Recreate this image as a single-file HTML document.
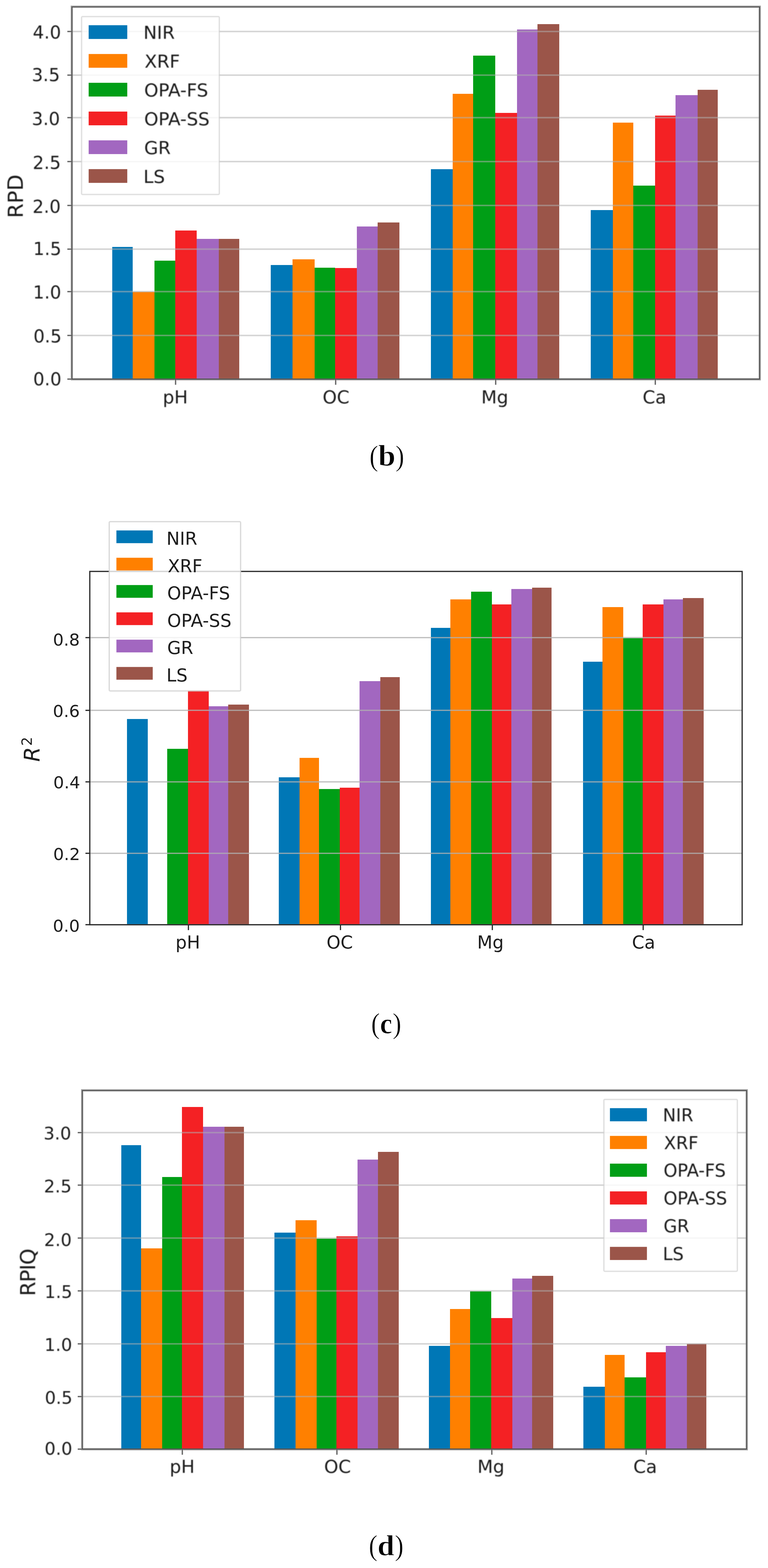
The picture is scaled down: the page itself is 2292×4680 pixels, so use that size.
<!DOCTYPE html>
<html><head><meta charset="utf-8"><title>Figure: RPD, R2 and RPIQ bar charts</title>
<style>
html,body{margin:0;padding:0;background:#fff;}
body{width:2292px;height:4680px;overflow:hidden;}
svg{display:block;}
.tx text{font-family:'DejaVu Sans', 'Liberation Sans', sans-serif;fill:#1e1e1e;}
.cap{font-family:'Liberation Serif', serif;fill:#000;}
</style></head>
<body>
<svg width="2292" height="4680" viewBox="0 0 2292 4680">
<defs><filter id="soft" x="-5%" y="-5%" width="110%" height="110%"><feGaussianBlur stdDeviation="0.8"/></filter></defs>
<rect x="0" y="0" width="2292" height="4680" fill="#fff"/>
<g id="chart-b">
<rect x="217.55" y="23.35" width="2046.55" height="1105.45" fill="none" stroke="#dddddd" stroke-width="2.5"/>
<rect x="334.6" y="736.6" width="61" height="394.75" fill="#0077b6" shape-rendering="crispEdges"/>
<rect x="395.6" y="871" width="65.6" height="260.35" fill="#ff8000" shape-rendering="crispEdges"/>
<rect x="461.2" y="778.4" width="61.3" height="352.95" fill="#009e16" shape-rendering="crispEdges"/>
<rect x="522.5" y="688.2" width="64.9" height="443.15" fill="#f42124" shape-rendering="crispEdges"/>
<rect x="587.4" y="713.1" width="65.6" height="418.25" fill="#a267c0" shape-rendering="crispEdges"/>
<rect x="653" y="713.1" width="61.3" height="418.25" fill="#9b5549" shape-rendering="crispEdges"/>
<rect x="807.8" y="790.7" width="64.9" height="340.65" fill="#0077b6" shape-rendering="crispEdges"/>
<rect x="872.7" y="773.9" width="66" height="357.45" fill="#ff8000" shape-rendering="crispEdges"/>
<rect x="938.7" y="798.9" width="61.3" height="332.45" fill="#009e16" shape-rendering="crispEdges"/>
<rect x="1000" y="799.6" width="65.3" height="331.75" fill="#f42124" shape-rendering="crispEdges"/>
<rect x="1065.3" y="675.9" width="61.7" height="455.45" fill="#a267c0" shape-rendering="crispEdges"/>
<rect x="1127" y="664.1" width="64.9" height="467.25" fill="#9b5549" shape-rendering="crispEdges"/>
<rect x="1286.2" y="505.2" width="64.8" height="626.15" fill="#0077b6" shape-rendering="crispEdges"/>
<rect x="1351" y="279.7" width="61.1" height="851.65" fill="#ff8000" shape-rendering="crispEdges"/>
<rect x="1412.1" y="165.5" width="65.8" height="965.85" fill="#009e16" shape-rendering="crispEdges"/>
<rect x="1477.9" y="337" width="64.9" height="794.35" fill="#f42124" shape-rendering="crispEdges"/>
<rect x="1542.8" y="87.5" width="61" height="1043.85" fill="#a267c0" shape-rendering="crispEdges"/>
<rect x="1603.8" y="71.5" width="65.4" height="1059.85" fill="#9b5549" shape-rendering="crispEdges"/>
<rect x="1763.1" y="627.4" width="65.7" height="503.95" fill="#0077b6" shape-rendering="crispEdges"/>
<rect x="1828.8" y="366.3" width="61.2" height="765.05" fill="#ff8000" shape-rendering="crispEdges"/>
<rect x="1890" y="554.4" width="64.8" height="576.95" fill="#009e16" shape-rendering="crispEdges"/>
<rect x="1954.8" y="345" width="61.2" height="786.35" fill="#f42124" shape-rendering="crispEdges"/>
<rect x="2016" y="283.9" width="65.7" height="847.45" fill="#a267c0" shape-rendering="crispEdges"/>
<rect x="2081.7" y="268" width="60.7" height="863.35" fill="#9b5549" shape-rendering="crispEdges"/>
<line x1="215" y1="1131.5" x2="2266.65" y2="1131.5" stroke="#b0b0b0" stroke-opacity="0.53" stroke-width="4.6"/>
<line x1="215" y1="1001.2" x2="2266.65" y2="1001.2" stroke="#b0b0b0" stroke-opacity="0.53" stroke-width="4.6"/>
<line x1="215" y1="870.4" x2="2266.65" y2="870.4" stroke="#b0b0b0" stroke-opacity="0.53" stroke-width="4.6"/>
<line x1="215" y1="743.6" x2="2266.65" y2="743.6" stroke="#b0b0b0" stroke-opacity="0.53" stroke-width="4.6"/>
<line x1="215" y1="613.2" x2="2266.65" y2="613.2" stroke="#b0b0b0" stroke-opacity="0.53" stroke-width="4.6"/>
<line x1="215" y1="482.2" x2="2266.65" y2="482.2" stroke="#b0b0b0" stroke-opacity="0.53" stroke-width="4.6"/>
<line x1="215" y1="351.1" x2="2266.65" y2="351.1" stroke="#b0b0b0" stroke-opacity="0.53" stroke-width="4.6"/>
<line x1="215" y1="224.2" x2="2266.65" y2="224.2" stroke="#b0b0b0" stroke-opacity="0.53" stroke-width="4.6"/>
<line x1="215" y1="94" x2="2266.65" y2="94" stroke="#b0b0b0" stroke-opacity="0.53" stroke-width="4.6"/>
<rect x="212.35" y="18.15" width="2056.95" height="1115.85" fill="none" stroke="#9c9c9c" stroke-width="2.7"/>
<line x1="201" y1="1131.5" x2="215" y2="1131.5" stroke="#bcbcbc" stroke-width="5"/>
<line x1="201" y1="1001.2" x2="215" y2="1001.2" stroke="#bcbcbc" stroke-width="5"/>
<line x1="201" y1="870.4" x2="215" y2="870.4" stroke="#bcbcbc" stroke-width="5"/>
<line x1="201" y1="743.6" x2="215" y2="743.6" stroke="#bcbcbc" stroke-width="5"/>
<line x1="201" y1="613.2" x2="215" y2="613.2" stroke="#bcbcbc" stroke-width="5"/>
<line x1="201" y1="482.2" x2="215" y2="482.2" stroke="#bcbcbc" stroke-width="5"/>
<line x1="201" y1="351.1" x2="215" y2="351.1" stroke="#bcbcbc" stroke-width="5"/>
<line x1="201" y1="224.2" x2="215" y2="224.2" stroke="#bcbcbc" stroke-width="5"/>
<line x1="201" y1="94" x2="215" y2="94" stroke="#bcbcbc" stroke-width="5"/>
<line x1="524" y1="1131.35" x2="524" y2="1148.35" stroke="#bcbcbc" stroke-width="5"/>
<line x1="1001.8" y1="1131.35" x2="1001.8" y2="1148.35" stroke="#bcbcbc" stroke-width="5"/>
<line x1="1479.3" y1="1131.35" x2="1479.3" y2="1148.35" stroke="#bcbcbc" stroke-width="5"/>
<line x1="1955.7" y1="1131.35" x2="1955.7" y2="1148.35" stroke="#bcbcbc" stroke-width="5"/>
<rect x="215" y="20.8" width="2051.65" height="1110.55" fill="none" stroke="#454545" stroke-width="2.7"/>
<line x1="201" y1="1131.5" x2="215" y2="1131.5" stroke="#555555" stroke-width="2.6"/>
<line x1="201" y1="1001.2" x2="215" y2="1001.2" stroke="#555555" stroke-width="2.6"/>
<line x1="201" y1="870.4" x2="215" y2="870.4" stroke="#555555" stroke-width="2.6"/>
<line x1="201" y1="743.6" x2="215" y2="743.6" stroke="#555555" stroke-width="2.6"/>
<line x1="201" y1="613.2" x2="215" y2="613.2" stroke="#555555" stroke-width="2.6"/>
<line x1="201" y1="482.2" x2="215" y2="482.2" stroke="#555555" stroke-width="2.6"/>
<line x1="201" y1="351.1" x2="215" y2="351.1" stroke="#555555" stroke-width="2.6"/>
<line x1="201" y1="224.2" x2="215" y2="224.2" stroke="#555555" stroke-width="2.6"/>
<line x1="201" y1="94" x2="215" y2="94" stroke="#555555" stroke-width="2.6"/>
<line x1="524" y1="1131.35" x2="524" y2="1148.35" stroke="#555555" stroke-width="2.6"/>
<line x1="1001.8" y1="1131.35" x2="1001.8" y2="1148.35" stroke="#555555" stroke-width="2.6"/>
<line x1="1479.3" y1="1131.35" x2="1479.3" y2="1148.35" stroke="#555555" stroke-width="2.6"/>
<line x1="1955.7" y1="1131.35" x2="1955.7" y2="1148.35" stroke="#555555" stroke-width="2.6"/>
</g>
<rect x="243.5" y="49.5" width="411" height="531" rx="3" ry="3" fill="#fff" fill-opacity="0.8" stroke="#cccccc" stroke-opacity="0.6" stroke-width="4"/>
<rect x="264.6" y="75.3" width="115.2" height="41" fill="#0077b6"/>
<rect x="264.6" y="161.2" width="115.2" height="41" fill="#ff8000"/>
<rect x="264.6" y="247.1" width="115.2" height="41" fill="#009e16"/>
<rect x="264.6" y="333" width="115.2" height="41" fill="#f42124"/>
<rect x="264.6" y="418.9" width="115.2" height="41" fill="#a267c0"/>
<rect x="264.6" y="504.8" width="115.2" height="41" fill="#9b5549"/>
<text transform="translate(1102.4,1389.5) scale(0.915,1)" font-size="86" class="cap" stroke="#fff" stroke-width="1">(</text>
<text transform="translate(1128.8,1390.1) scale(1.03,1)" font-size="89.87" font-weight="bold" class="cap" stroke="#fff" stroke-width="1.2">b</text>
<text transform="translate(1180.3,1389.5) scale(0.915,1)" font-size="86" class="cap" stroke="#fff" stroke-width="1">)</text>
<g id="chart-c">
<rect x="379" y="2145.7" width="61.6" height="614.4" fill="#0077b6" shape-rendering="crispEdges"/>
<rect x="498.9" y="2235" width="62" height="525.1" fill="#009e16" shape-rendering="crispEdges"/>
<rect x="560.9" y="2061" width="62" height="699.1" fill="#f42124" shape-rendering="crispEdges"/>
<rect x="622.9" y="2107.5" width="58.3" height="652.6" fill="#a267c0" shape-rendering="crispEdges"/>
<rect x="681.2" y="2103.1" width="61.6" height="657" fill="#9b5549" shape-rendering="crispEdges"/>
<rect x="832.1" y="2320" width="61.9" height="440.1" fill="#0077b6" shape-rendering="crispEdges"/>
<rect x="894" y="2262" width="58.4" height="498.1" fill="#ff8000" shape-rendering="crispEdges"/>
<rect x="952.4" y="2354.6" width="61.9" height="405.5" fill="#009e16" shape-rendering="crispEdges"/>
<rect x="1014.3" y="2351" width="58.3" height="409.1" fill="#f42124" shape-rendering="crispEdges"/>
<rect x="1072.6" y="2033.1" width="62" height="727" fill="#a267c0" shape-rendering="crispEdges"/>
<rect x="1134.6" y="2021.4" width="58" height="738.7" fill="#9b5549" shape-rendering="crispEdges"/>
<rect x="1285.9" y="1873.9" width="58.1" height="886.2" fill="#0077b6" shape-rendering="crispEdges"/>
<rect x="1344" y="1789" width="61.8" height="971.1" fill="#ff8000" shape-rendering="crispEdges"/>
<rect x="1405.8" y="1765.8" width="62.2" height="994.3" fill="#009e16" shape-rendering="crispEdges"/>
<rect x="1468" y="1804.4" width="58.1" height="955.7" fill="#f42124" shape-rendering="crispEdges"/>
<rect x="1526.1" y="1757.7" width="62.2" height="1002.4" fill="#a267c0" shape-rendering="crispEdges"/>
<rect x="1588.3" y="1754" width="58.1" height="1006.1" fill="#9b5549" shape-rendering="crispEdges"/>
<rect x="1739.9" y="1974.9" width="57.7" height="785.2" fill="#0077b6" shape-rendering="crispEdges"/>
<rect x="1797.6" y="1812.1" width="62.4" height="948" fill="#ff8000" shape-rendering="crispEdges"/>
<rect x="1860" y="1904.5" width="58.1" height="855.6" fill="#009e16" shape-rendering="crispEdges"/>
<rect x="1918.1" y="1804.1" width="61.9" height="956" fill="#f42124" shape-rendering="crispEdges"/>
<rect x="1980" y="1788.7" width="58.2" height="971.4" fill="#a267c0" shape-rendering="crispEdges"/>
<rect x="2038.2" y="1784.9" width="61.9" height="975.2" fill="#9b5549" shape-rendering="crispEdges"/>
<line x1="268" y1="2759.9" x2="2214.85" y2="2759.9" stroke="#b0b0b0" stroke-opacity="0.8" stroke-width="3.8"/>
<line x1="268" y1="2546.8" x2="2214.85" y2="2546.8" stroke="#b0b0b0" stroke-opacity="0.8" stroke-width="3.8"/>
<line x1="268" y1="2333.6" x2="2214.85" y2="2333.6" stroke="#b0b0b0" stroke-opacity="0.8" stroke-width="3.8"/>
<line x1="268" y1="2120.2" x2="2214.85" y2="2120.2" stroke="#b0b0b0" stroke-opacity="0.8" stroke-width="3.8"/>
<line x1="268" y1="1903.1" x2="2214.85" y2="1903.1" stroke="#b0b0b0" stroke-opacity="0.8" stroke-width="3.8"/>
<rect x="268" y="1705.5" width="1946.85" height="1054.6" fill="none" stroke="#2a2a2a" stroke-width="3.6"/>
<line x1="255" y1="2759.9" x2="268" y2="2759.9" stroke="#2a2a2a" stroke-width="3.6"/>
<line x1="255" y1="2546.8" x2="268" y2="2546.8" stroke="#2a2a2a" stroke-width="3.6"/>
<line x1="255" y1="2333.6" x2="268" y2="2333.6" stroke="#2a2a2a" stroke-width="3.6"/>
<line x1="255" y1="2120.2" x2="268" y2="2120.2" stroke="#2a2a2a" stroke-width="3.6"/>
<line x1="255" y1="1903.1" x2="268" y2="1903.1" stroke="#2a2a2a" stroke-width="3.6"/>
<line x1="562.3" y1="2760.1" x2="562.3" y2="2776.1" stroke="#2a2a2a" stroke-width="3.6"/>
<line x1="1016.1" y1="2760.1" x2="1016.1" y2="2776.1" stroke="#2a2a2a" stroke-width="3.6"/>
<line x1="1469.3" y1="2760.1" x2="1469.3" y2="2776.1" stroke="#2a2a2a" stroke-width="3.6"/>
<line x1="1919.5" y1="2760.1" x2="1919.5" y2="2776.1" stroke="#2a2a2a" stroke-width="3.6"/>
</g>
<rect x="326" y="1557.1" width="392" height="505.1" rx="3" ry="3" fill="#fff" fill-opacity="0.8" stroke="#cccccc" stroke-opacity="0.7" stroke-width="4"/>
<rect x="347.4" y="1583.2" width="108.4" height="38" fill="#0077b6"/>
<rect x="347.4" y="1664.7" width="108.4" height="38" fill="#ff8000"/>
<rect x="347.4" y="1746.2" width="108.4" height="38" fill="#009e16"/>
<rect x="347.4" y="1827.7" width="108.4" height="38" fill="#f42124"/>
<rect x="347.4" y="1909.2" width="108.4" height="38" fill="#a267c0"/>
<rect x="347.4" y="1990.7" width="108.4" height="38" fill="#9b5549"/>
<line x1="327.8" y1="1705.5" x2="716" y2="1705.5" stroke="#d4d4d4" stroke-width="3.6"/>
<text transform="translate(1107.6,3083.6) scale(0.915,1)" font-size="86" class="cap" stroke="#fff" stroke-width="1">(</text>
<text transform="translate(1134,3084.3) scale(0.94,1)" font-size="87.44" font-weight="bold" class="cap" stroke="#fff" stroke-width="1.2">c</text>
<text transform="translate(1171.4,3083.6) scale(0.915,1)" font-size="86" class="cap" stroke="#fff" stroke-width="1">)</text>
<g id="chart-d">
<rect x="248.5" y="3257.65" width="1976.8" height="1064.65" fill="none" stroke="#dddddd" stroke-width="2.5"/>
<rect x="361.9" y="3417.8" width="58.7" height="907.05" fill="#0077b6" shape-rendering="crispEdges"/>
<rect x="420.6" y="3726.3" width="63.4" height="598.55" fill="#ff8000" shape-rendering="crispEdges"/>
<rect x="484" y="3513.3" width="58.7" height="811.55" fill="#009e16" shape-rendering="crispEdges"/>
<rect x="542.7" y="3304.1" width="62.9" height="1020.75" fill="#f42124" shape-rendering="crispEdges"/>
<rect x="605.6" y="3362.8" width="63.9" height="962.05" fill="#a267c0" shape-rendering="crispEdges"/>
<rect x="669.5" y="3362.8" width="58.3" height="962.05" fill="#9b5549" shape-rendering="crispEdges"/>
<rect x="818.6" y="3678.8" width="63.4" height="646.05" fill="#0077b6" shape-rendering="crispEdges"/>
<rect x="882" y="3642.4" width="63.4" height="682.45" fill="#ff8000" shape-rendering="crispEdges"/>
<rect x="945.4" y="3696.5" width="58.7" height="628.35" fill="#009e16" shape-rendering="crispEdges"/>
<rect x="1004.1" y="3690.4" width="62.9" height="634.45" fill="#f42124" shape-rendering="crispEdges"/>
<rect x="1067" y="3461.1" width="60.6" height="863.75" fill="#a267c0" shape-rendering="crispEdges"/>
<rect x="1127.6" y="3437.8" width="62" height="887.05" fill="#9b5549" shape-rendering="crispEdges"/>
<rect x="1280" y="4017.1" width="63.1" height="307.75" fill="#0077b6" shape-rendering="crispEdges"/>
<rect x="1343.1" y="3906.7" width="59.8" height="418.15" fill="#ff8000" shape-rendering="crispEdges"/>
<rect x="1402.9" y="3853.8" width="63" height="471.05" fill="#009e16" shape-rendering="crispEdges"/>
<rect x="1465.9" y="3934" width="62.7" height="390.85" fill="#f42124" shape-rendering="crispEdges"/>
<rect x="1528.6" y="3815.9" width="59.4" height="508.95" fill="#a267c0" shape-rendering="crispEdges"/>
<rect x="1588" y="3808.3" width="63.1" height="516.55" fill="#9b5549" shape-rendering="crispEdges"/>
<rect x="1741.3" y="4138.9" width="63.5" height="185.95" fill="#0077b6" shape-rendering="crispEdges"/>
<rect x="1804.8" y="4044.1" width="59.3" height="280.75" fill="#ff8000" shape-rendering="crispEdges"/>
<rect x="1864.1" y="4111.2" width="63.5" height="213.65" fill="#009e16" shape-rendering="crispEdges"/>
<rect x="1927.6" y="4036" width="58.9" height="288.85" fill="#f42124" shape-rendering="crispEdges"/>
<rect x="1986.5" y="4016.9" width="63" height="307.95" fill="#a267c0" shape-rendering="crispEdges"/>
<rect x="2049.5" y="4011" width="58.5" height="313.85" fill="#9b5549" shape-rendering="crispEdges"/>
<line x1="245.95" y1="4325.2" x2="2227.85" y2="4325.2" stroke="#b0b0b0" stroke-opacity="0.53" stroke-width="4.6"/>
<line x1="245.95" y1="4168.3" x2="2227.85" y2="4168.3" stroke="#b0b0b0" stroke-opacity="0.53" stroke-width="4.6"/>
<line x1="245.95" y1="4011" x2="2227.85" y2="4011" stroke="#b0b0b0" stroke-opacity="0.53" stroke-width="4.6"/>
<line x1="245.95" y1="3852.9" x2="2227.85" y2="3852.9" stroke="#b0b0b0" stroke-opacity="0.53" stroke-width="4.6"/>
<line x1="245.95" y1="3695.2" x2="2227.85" y2="3695.2" stroke="#b0b0b0" stroke-opacity="0.53" stroke-width="4.6"/>
<line x1="245.95" y1="3537.2" x2="2227.85" y2="3537.2" stroke="#b0b0b0" stroke-opacity="0.53" stroke-width="4.6"/>
<line x1="245.95" y1="3380.5" x2="2227.85" y2="3380.5" stroke="#b0b0b0" stroke-opacity="0.53" stroke-width="4.6"/>
<rect x="243.3" y="3252.45" width="1987.2" height="1075.05" fill="none" stroke="#9c9c9c" stroke-width="2.7"/>
<line x1="231.95" y1="4325.2" x2="245.95" y2="4325.2" stroke="#bcbcbc" stroke-width="5"/>
<line x1="231.95" y1="4168.3" x2="245.95" y2="4168.3" stroke="#bcbcbc" stroke-width="5"/>
<line x1="231.95" y1="4011" x2="245.95" y2="4011" stroke="#bcbcbc" stroke-width="5"/>
<line x1="231.95" y1="3852.9" x2="245.95" y2="3852.9" stroke="#bcbcbc" stroke-width="5"/>
<line x1="231.95" y1="3695.2" x2="245.95" y2="3695.2" stroke="#bcbcbc" stroke-width="5"/>
<line x1="231.95" y1="3537.2" x2="245.95" y2="3537.2" stroke="#bcbcbc" stroke-width="5"/>
<line x1="231.95" y1="3380.5" x2="245.95" y2="3380.5" stroke="#bcbcbc" stroke-width="5"/>
<line x1="544.1" y1="4324.85" x2="544.1" y2="4341.85" stroke="#bcbcbc" stroke-width="5"/>
<line x1="1005.5" y1="4324.85" x2="1005.5" y2="4341.85" stroke="#bcbcbc" stroke-width="5"/>
<line x1="1467.8" y1="4324.85" x2="1467.8" y2="4341.85" stroke="#bcbcbc" stroke-width="5"/>
<line x1="1928.5" y1="4324.85" x2="1928.5" y2="4341.85" stroke="#bcbcbc" stroke-width="5"/>
<rect x="245.95" y="3255.1" width="1981.9" height="1069.75" fill="none" stroke="#454545" stroke-width="2.7"/>
<line x1="231.95" y1="4325.2" x2="245.95" y2="4325.2" stroke="#555555" stroke-width="2.6"/>
<line x1="231.95" y1="4168.3" x2="245.95" y2="4168.3" stroke="#555555" stroke-width="2.6"/>
<line x1="231.95" y1="4011" x2="245.95" y2="4011" stroke="#555555" stroke-width="2.6"/>
<line x1="231.95" y1="3852.9" x2="245.95" y2="3852.9" stroke="#555555" stroke-width="2.6"/>
<line x1="231.95" y1="3695.2" x2="245.95" y2="3695.2" stroke="#555555" stroke-width="2.6"/>
<line x1="231.95" y1="3537.2" x2="245.95" y2="3537.2" stroke="#555555" stroke-width="2.6"/>
<line x1="231.95" y1="3380.5" x2="245.95" y2="3380.5" stroke="#555555" stroke-width="2.6"/>
<line x1="544.1" y1="4324.85" x2="544.1" y2="4341.85" stroke="#555555" stroke-width="2.6"/>
<line x1="1005.5" y1="4324.85" x2="1005.5" y2="4341.85" stroke="#555555" stroke-width="2.6"/>
<line x1="1467.8" y1="4324.85" x2="1467.8" y2="4341.85" stroke="#555555" stroke-width="2.6"/>
<line x1="1928.5" y1="4324.85" x2="1928.5" y2="4341.85" stroke="#555555" stroke-width="2.6"/>
</g>
<rect x="1802.2" y="3281.4" width="398.3" height="513" rx="3" ry="3" fill="#fff" fill-opacity="0.8" stroke="#cccccc" stroke-opacity="0.6" stroke-width="4"/>
<rect x="1820.3" y="3307.5" width="110.4" height="39.2" fill="#0077b6"/>
<rect x="1820.3" y="3390.3" width="110.4" height="39.2" fill="#ff8000"/>
<rect x="1820.3" y="3473.1" width="110.4" height="39.2" fill="#009e16"/>
<rect x="1820.3" y="3555.9" width="110.4" height="39.2" fill="#f42124"/>
<rect x="1820.3" y="3638.7" width="110.4" height="39.2" fill="#a267c0"/>
<rect x="1820.3" y="3721.5" width="110.4" height="39.2" fill="#9b5549"/>
<text transform="translate(1100.5,4642.2) scale(0.915,1)" font-size="86" class="cap" stroke="#fff" stroke-width="1">(</text>
<text transform="translate(1126.4,4641.7) scale(1.034,1)" font-size="87.74" font-weight="bold" class="cap" stroke="#fff" stroke-width="1.2">d</text>
<text transform="translate(1178.2,4642.2) scale(0.915,1)" font-size="86" class="cap" stroke="#fff" stroke-width="1">)</text>
<g class="tx" filter="url(#soft)">
<text x="97.82" y="114.99" font-size="53">4.0</text>
<text x="94.65" y="241.99" font-size="53">3.5</text>
<text x="94.8" y="372.99" font-size="53">3.0</text>
<text x="97.43" y="504.19" font-size="53">2.5</text>
<text x="96.88" y="634.79" font-size="53">2.0</text>
<text x="99.06" y="760.94" font-size="53">1.5</text>
<text x="98.5" y="891.19" font-size="53">1.0</text>
<text x="99.63" y="1022.19" font-size="53">0.5</text>
<text x="99.07" y="1149.99" font-size="53">0.0</text>
<text x="485.66" y="1203.5" font-size="54">pH</text>
<text x="962.64" y="1203.5" font-size="54">OC</text>
<text x="1436.17" y="1203.5" font-size="54">Mg</text>
<text x="1917.84" y="1203.5" font-size="54">Ca</text>
<text x="427.9" y="116" font-size="54">NIR</text>
<text x="431.59" y="201.9" font-size="54">XRF</text>
<text x="430.17" y="287.8" font-size="54">OPA-FS</text>
<text x="430.17" y="373.7" font-size="54">OPA-SS</text>
<text x="430.17" y="459.6" font-size="54">GR</text>
<text x="427.9" y="545.5" font-size="54">LS</text>
<text x="130" y="3401.33" font-size="52">3.0</text>
<text x="131.02" y="3558.83" font-size="52">2.5</text>
<text x="131.47" y="3718.53" font-size="52">2.0</text>
<text x="133.07" y="3874.29" font-size="52">1.5</text>
<text x="132.52" y="4031.83" font-size="52">1.0</text>
<text x="133.71" y="4190.13" font-size="52">0.5</text>
<text x="133.06" y="4342.43" font-size="52">0.0</text>
<text x="506.26" y="4395.5" font-size="54">pH</text>
<text x="967.24" y="4395.5" font-size="54">OC</text>
<text x="1424.77" y="4395.5" font-size="54">Mg</text>
<text x="1889.94" y="4395.5" font-size="54">Ca</text>
<text x="1977.95" y="3346.7" font-size="52.5">NIR</text>
<text x="1981.54" y="3429.5" font-size="52.5">XRF</text>
<text x="1980.15" y="3512.3" font-size="52.5">OPA-FS</text>
<text x="1980.15" y="3595.1" font-size="52.5">OPA-SS</text>
<text x="1980.15" y="3677.9" font-size="52.5">GR</text>
<text x="1977.95" y="3760.7" font-size="52.5">LS</text>
<text transform="translate(68.11,650.97) rotate(-90)" font-size="63">RPD</text>
<text transform="translate(104.91,3868.38) rotate(-90)" font-size="62" letter-spacing="-1.8">RPIQ</text>
</g>
<g class="tx">
<text x="157.91" y="1927.38" font-size="50.5">0.8</text>
<text x="157.77" y="2140.38" font-size="50.5">0.6</text>
<text x="159.1" y="2353.48" font-size="50.5">0.4</text>
<text x="158.71" y="2566.88" font-size="50.5">0.2</text>
<text x="157.86" y="2780.68" font-size="50.5">0.0</text>
<text x="523.75" y="2831.2" font-size="53">pH</text>
<text x="974.59" y="2831.2" font-size="53">OC</text>
<text x="1424.02" y="2831.2" font-size="53">Mg</text>
<text x="1885.98" y="2831.2" font-size="53">Ca</text>
<text x="496.8" y="1626" font-size="53">NIR</text>
<text x="500.42" y="1707.5" font-size="53">XRF</text>
<text x="499.02" y="1789" font-size="53">OPA-FS</text>
<text x="499.02" y="1870.5" font-size="53">OPA-SS</text>
<text x="499.02" y="1952" font-size="53">GR</text>
<text x="496.8" y="2033.5" font-size="53">LS</text>
<text transform="translate(118.43,2273.81) rotate(-90)" font-size="64" font-style="oblique">R</text>
<text transform="translate(95.34,2225.9) rotate(-90)" font-size="42">2</text>
</g>
</svg>
</body></html>
